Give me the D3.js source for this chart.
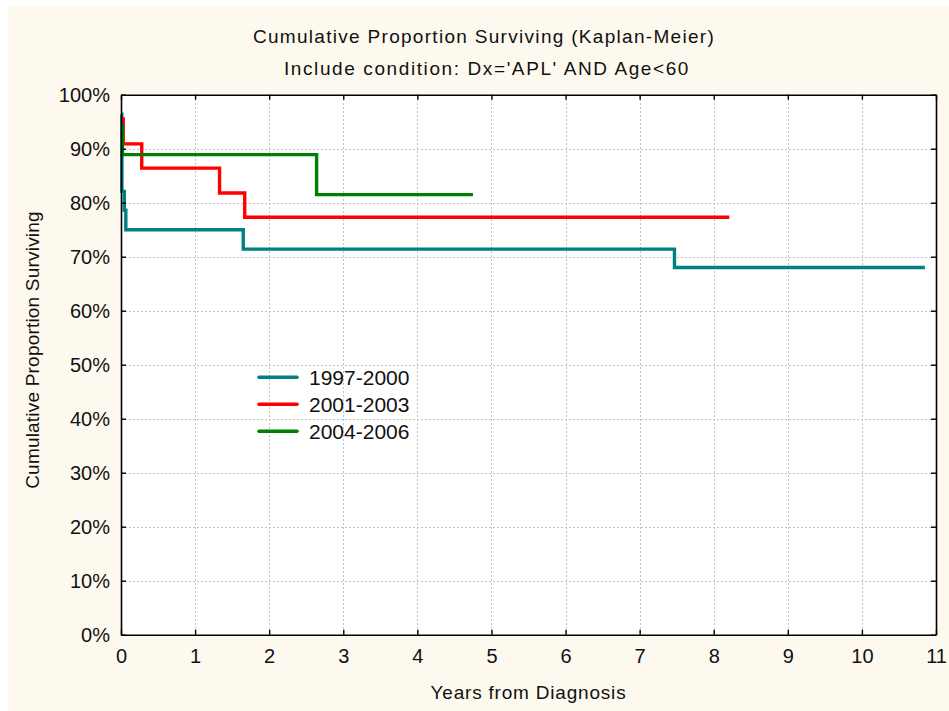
<!DOCTYPE html>
<html>
<head>
<meta charset="utf-8">
<script src="https://cdn.jsdelivr.net/npm/d3@7"></script>
<style>
  html, body { margin: 0; padding: 0; background: #ffffff; }
  text { font-family: "Liberation Sans", Arial, sans-serif; fill: #111; }
</style>
</head>
<body>
<svg id="chart" width="949" height="711"></svg>
<script>
// Kaplan-Meier survival estimates by diagnosis period (time in years, survival as proportion)
const seriesNames = ["1997-2000", "2001-2003", "2004-2006"];
const seriesColors = ["#008080", "#ff0000", "#008000"];

const times1997 = [0, 0.012, 0.045, 0.065, 1.65, 7.47, 10.85];
const surv1997  = [0.964, 0.821, 0.786, 0.75, 0.714, 0.68, 0.68];

const times2001 = [0, 0.03, 0.28, 1.33, 1.67, 8.21];
const surv2001  = [0.955, 0.909, 0.864, 0.818, 0.773, 0.773];

const times2004 = [0, 0.02, 2.64, 4.75];
const surv2004  = [0.944, 0.889, 0.815, 0.815];

const xTicks = [0, 1, 2, 3, 4, 5, 6, 7, 8, 9, 10, 11];
const yTicks = [0, 0.1, 0.2, 0.3, 0.4, 0.5, 0.6, 0.7, 0.8, 0.9, 1.0];

const titleText = "Cumulative Proportion Surviving (Kaplan-Meier)";
const subtitleText = "Include condition: Dx='APL' AND Age<60";
const xTitle = "Years from Diagnosis";
const yTitle = "Cumulative Proportion Surviving";

const series = [
  { name: seriesNames[0], color: seriesColors[0], t: times1997, s: surv1997 },
  { name: seriesNames[1], color: seriesColors[1], t: times2001, s: surv2001 },
  { name: seriesNames[2], color: seriesColors[2], t: times2004, s: surv2004 }
];

const W = 949, H = 711;
const margin = { left: 121, top: 94.7, right: 13, bottom: 76.3 };
const svg = d3.select("#chart");

// page background
svg.append("rect").attr("x", 8).attr("y", 7).attr("width", W - 8).attr("height", H - 7)
  .attr("fill", "#fdf9ee");

const x = d3.scaleLinear().domain([0, 11]).range([margin.left, W - margin.right]);
const y = d3.scaleLinear().domain([0, 1]).range([H - margin.bottom, margin.top]);

const [x0, x1] = x.range();
const [y0, y1] = [y(0), y(1)];

// plot area
svg.append("rect").attr("x", x0).attr("y", y1).attr("width", x1 - x0).attr("height", y0 - y1)
  .attr("fill", "#ffffff");

// dotted grid
const grid = svg.append("g").attr("stroke", "#c4c4c4").attr("stroke-width", 1)
  .attr("stroke-dasharray", "2,2").attr("shape-rendering", "crispEdges");
grid.selectAll(".gx").data(xTicks.slice(1, -1)).join("line")
  .attr("x1", d => Math.round(x(d)) + 0.5).attr("x2", d => Math.round(x(d)) + 0.5)
  .attr("y1", y1).attr("y2", y0);
grid.selectAll(".gy").data(yTicks.slice(1, -1)).join("line")
  .attr("y1", d => Math.round(y(d)) + 0.5).attr("y2", d => Math.round(y(d)) + 0.5)
  .attr("x1", x0).attr("x2", x1);

// survival step curves
const line = d3.line().x(d => x(d[0])).y(d => y(d[1])).curve(d3.curveStepAfter);
svg.append("g").selectAll("path").data(series).join("path")
  .attr("d", d => line(d.t.map((t, i) => [t, d.s[i]])))
  .attr("fill", "none")
  .attr("stroke", d => d.color)
  .attr("stroke-width", 3.4)
  .attr("stroke-linejoin", "miter");

// axes with inward ticks
const tickFont = "20px";
const bottomAxis = svg.append("g").attr("transform", `translate(0,${y0})`)
  .call(d3.axisBottom(x).tickValues(xTicks).tickSizeInner(-5).tickSizeOuter(0).tickPadding(14));
const leftAxis = svg.append("g").attr("transform", `translate(${x0},0)`)
  .call(d3.axisLeft(y).tickValues(yTicks).tickFormat(d3.format(".0%")).tickSizeInner(-5).tickSizeOuter(0).tickPadding(11));
const topAxis = svg.append("g").attr("transform", `translate(0,${y1})`)
  .call(d3.axisTop(x).tickValues(xTicks).tickSizeInner(-5).tickSizeOuter(0).tickFormat(""));
const rightAxis = svg.append("g").attr("transform", `translate(${x1},0)`)
  .call(d3.axisRight(y).tickValues(yTicks).tickSizeInner(-5).tickSizeOuter(0).tickFormat(""));

[bottomAxis, leftAxis, topAxis, rightAxis].forEach(a => {
  a.select(".domain").attr("stroke", "#000").attr("stroke-width", 1.6);
  a.selectAll(".tick line").attr("stroke", "#000").attr("stroke-width", 1.4);
  a.selectAll(".tick text").attr("font-size", tickFont)
    .attr("font-family", "'Liberation Sans', Arial, sans-serif").attr("fill", "#111");
});
bottomAxis.selectAll(".tick text").attr("dy", "0.71em");
leftAxis.selectAll(".tick text").attr("dy", "0.36em");

// titles
svg.append("text").attr("x", 484).attr("y", 43).attr("text-anchor", "middle")
  .attr("font-size", "19px").attr("letter-spacing", "1.3px").text(titleText);
svg.append("text").attr("x", 487).attr("y", 75).attr("text-anchor", "middle")
  .attr("font-size", "19px").attr("letter-spacing", "1.6px").text(subtitleText);
svg.append("text").attr("x", (x0 + x1) / 2).attr("y", 699).attr("text-anchor", "middle")
  .attr("font-size", "19px").attr("letter-spacing", "0.8px").text(xTitle);
svg.append("text").attr("transform", `translate(39,350) rotate(-90)`)
  .attr("text-anchor", "middle").attr("font-size", "19px").attr("letter-spacing", "0.2px").text(yTitle);

// legend
const legend = svg.append("g");
const legendRows = legend.selectAll("g").data(series).join("g")
  .attr("transform", (d, i) => `translate(259,${377.3 + i * 27})`);
legendRows.append("line").attr("x1", 0).attr("x2", 38).attr("y1", 0).attr("y2", 0)
  .attr("stroke", d => d.color).attr("stroke-width", 3.6).attr("stroke-linecap", "round");
legendRows.append("text").attr("x", 50).attr("y", 0).attr("dy", "0.36em")
  .attr("font-size", "21px").text(d => d.name);
</script>
</body>
</html>
